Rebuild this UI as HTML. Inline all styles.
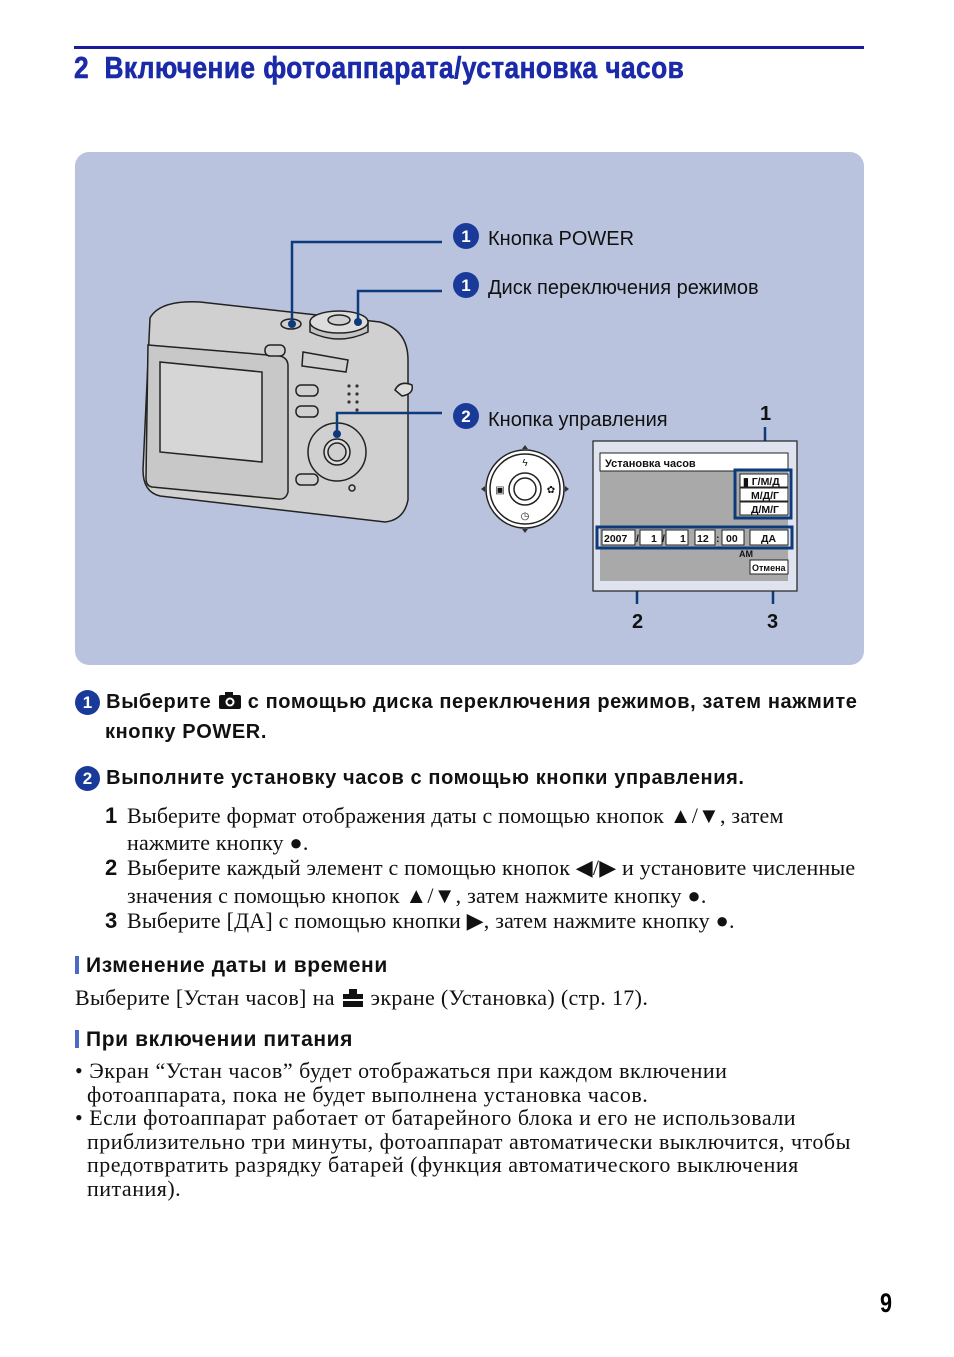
<!DOCTYPE html>
<html><head><meta charset="utf-8"><style>
body{margin:0;width:954px;height:1357px;background:#fff;position:relative;font-family:"Liberation Sans",sans-serif;overflow:hidden}
.a{position:absolute;white-space:nowrap}
.s{font-family:"Liberation Serif",serif;font-size:22px;letter-spacing:0.35px;color:#111}
.st{letter-spacing:0.2px}
.bl{letter-spacing:0.5px}
.h{font-weight:bold;font-size:20px;letter-spacing:0.6px;color:#111}
.num{display:inline-block;width:25px;height:25px;border-radius:50%;background:#1a3a9a;color:#fff;text-align:center;font-weight:bold;font-size:17px;line-height:25px;letter-spacing:0}
.n{font-family:"Liberation Sans";font-weight:bold;letter-spacing:0;display:inline-block;width:22px}
</style></head><body>
<div class="a" style="left:74px;top:46px;width:790px;height:3px;background:#1a1a9a"></div>
<div class="a" style="left:74px;top:50px;font-size:31px;font-weight:bold;color:#1a2aa8;transform:scaleX(0.848);transform-origin:left;letter-spacing:0.5px;-webkit-text-stroke:0.6px #1a2aa8">2&nbsp; Включение фотоаппарата/установка часов</div>
<div class="a" style="left:75px;top:152px;width:789px;height:513px;background:#b9c3de;border-radius:14px"></div>
<svg class="a" style="left:0;top:0" width="954" height="700">
<g stroke="#222" stroke-width="1.5" fill="#d0d0d0">
<path d="M150 318 Q160 300 200 302 L380 322 Q408 330 408 360 L408 500 Q404 520 385 522 L160 496 Q143 492 143 470 Z"/>
<path d="M148 345 L280 356 Q288 358 288 366 L288 492 Q286 500 278 499 L152 487 Q146 486 146 478 Z" fill="#c8c8c8"/>
<path d="M160 362 L262 372 L262 462 L160 452 Z" fill="#d6d6d6"/>
<path d="M310 322 L310 332 Q339 346 368 332 L368 322" fill="#c4c4c4"/>
<ellipse cx="339" cy="322" rx="29" ry="11" fill="#ddd"/><ellipse cx="339" cy="320" rx="11" ry="5"/>
<ellipse cx="291" cy="324" rx="10" ry="5"/>
<rect x="265" y="345" width="20" height="11" rx="5"/>
<path d="M303 352 L348 360 L346 372 L302 366 Z"/>
<rect x="296" y="385" width="22" height="11" rx="5"/><rect x="296" y="406" width="22" height="11" rx="5"/><rect x="296" y="474" width="22" height="11" rx="5"/>
<circle cx="337" cy="452" r="29"/><circle cx="337" cy="452" r="13" fill="#ddd"/><circle cx="337" cy="452" r="9"/>
<circle cx="352" cy="488" r="3"/>
<path d="M395 390 Q400 380 412 385 Q414 394 402 396 Z" fill="#ddd"/>
<circle cx="525" cy="489" r="39" fill="#fff"/><circle cx="525" cy="489" r="35" fill="#fff"/><circle cx="525" cy="489" r="16" fill="#fff"/><circle cx="525" cy="489" r="11" fill="#fff"/>
</g>
<g fill="#333" stroke="none">
<circle cx="349" cy="386" r="1.6"/><circle cx="357" cy="386" r="1.6"/><circle cx="349" cy="394" r="1.6"/><circle cx="357" cy="394" r="1.6"/><circle cx="349" cy="402" r="1.6"/><circle cx="357" cy="402" r="1.6"/><circle cx="357" cy="410" r="1.6"/>
<path d="M525 533 l-3 -4 h6 z"/><path d="M525 445 l-3 4 h6 z"/><path d="M481 489 l4 -3 v6 z"/><path d="M569 489 l-4 -3 v6 z"/>
</g>
<g font-size="10" fill="#111" text-anchor="middle"><text x="525" y="466">ϟ</text><text x="500" y="493">▣</text><text x="551" y="493">✿</text><text x="525" y="519">◷</text></g>
<g fill="none" stroke="#0d3a7a" stroke-width="2.5">
<path d="M292 324 V242 H442"/><path d="M358 322 V291 H442"/><path d="M337 434 V413 H442"/>
<path d="M765 427 V470"/><path d="M637 548 V604"/><path d="M773 548 V604"/>
</g>
<g fill="#0d3a7a"><circle cx="292" cy="324" r="4"/><circle cx="358" cy="322" r="4"/><circle cx="337" cy="434" r="4"/></g>
<rect x="593" y="441" width="204" height="150" fill="#dfe2ef" stroke="#222" stroke-width="1.2"/>
<rect x="600" y="453" width="188" height="128" fill="#a9a9a9"/>
<rect x="600" y="453" width="188" height="18" fill="#fff" stroke="#222"/>
<text x="605" y="467" font-size="11" font-weight="bold" fill="#111">Установка часов</text>
<rect x="735" y="470" width="56" height="48" fill="none" stroke="#0d3a7a" stroke-width="3"/>
<g fill="#fff" stroke="#222"><rect x="740" y="474" width="48" height="13"/><rect x="740" y="488" width="48" height="13"/><rect x="740" y="502" width="48" height="13"/>
<rect x="602" y="530" width="33" height="15"/><rect x="640" y="530" width="22" height="15"/><rect x="666" y="530" width="22" height="15"/><rect x="695" y="530" width="20" height="15"/><rect x="722" y="530" width="22" height="15"/><rect x="750" y="530" width="38" height="15"/><rect x="750" y="560" width="38" height="14"/></g>
<rect x="597" y="527" width="195" height="21" fill="none" stroke="#0d3a7a" stroke-width="3"/>
<g font-size="10.5" font-weight="bold" fill="#111">
<text x="743" y="485">▮ Г/М/Д</text><text x="751" y="499">М/Д/Г</text><text x="751" y="513">Д/М/Г</text>
<text x="604" y="542">2007</text><text x="636" y="542">/</text><text x="651" y="542">1</text><text x="662" y="542">/</text><text x="680" y="542">1</text><text x="697" y="542">12</text><text x="716" y="542">:</text><text x="726" y="542">00</text><text x="761" y="542">ДА</text>
<text x="739" y="557" font-size="9">AM</text><text x="752" y="571" font-size="9">Отмена</text></g>
<g font-size="20" font-weight="bold" fill="#111"><text x="760" y="420">1</text><text x="632" y="628">2</text><text x="767" y="628">3</text></g>
<g fill="#1a3a9a"><circle cx="466" cy="236" r="13"/><circle cx="466" cy="285" r="13"/><circle cx="466" cy="416" r="13"/></g>
<g fill="#fff" font-size="17" font-weight="bold" text-anchor="middle"><text x="466" y="242">1</text><text x="466" y="291">1</text><text x="466" y="422">2</text></g>
<g font-size="20" fill="#111"><text x="488" y="245">Кнопка POWER</text><text x="488" y="294">Диск переключения режимов</text><text x="488" y="426">Кнопка управления</text></g>
</svg>
<div class="a h" style="left:75px;top:690px"><span class="num">1</span> Выберите <svg width="24" height="18" style="vertical-align:-2px"><rect x="1" y="3" width="22" height="14" rx="2" fill="#111"/><rect x="7" y="0" width="8" height="4" fill="#111"/><circle cx="12" cy="10" r="4.5" fill="#fff"/><circle cx="12" cy="10" r="2.5" fill="#111"/></svg> с помощью диска переключения режимов, затем нажмите</div>
<div class="a h" style="left:105px;top:721px">кнопку POWER.</div>
<div class="a h" style="left:75px;top:766px"><span class="num">2</span> Выполните установку часов с помощью кнопки управления.</div>
<div class="a s st" style="left:105px;top:803px"><span class="n">1</span>Выберите формат отображения даты с помощью кнопок ▲/▼, затем</div>
<div class="a s st" style="left:127px;top:830px">нажмите кнопку ●.</div>
<div class="a s st" style="left:105px;top:855px"><span class="n">2</span>Выберите каждый элемент с помощью кнопок ◀/▶ и установите численные</div>
<div class="a s st" style="left:127px;top:883px">значения с помощью кнопок ▲/▼, затем нажмите кнопку ●.</div>
<div class="a s st" style="left:105px;top:908px"><span class="n">3</span>Выберите [ДА] с помощью кнопки ▶, затем нажмите кнопку ●.</div>
<div class="a" style="left:75px;top:956px;width:4px;height:18px;background:#4a6ac8"></div>
<div class="a h" style="left:86px;top:954px;font-size:21px">Изменение даты и времени</div>
<div class="a s" style="left:75px;top:985px">Выберите [Устан часов] на <svg width="24" height="20" style="vertical-align:-3px"><rect x="2" y="6" width="20" height="13" fill="#111"/><rect x="8" y="1" width="8" height="5" fill="#111"/><rect x="2" y="11" width="20" height="2" fill="#fff"/></svg> экране (Установка) (стр. 17).</div>
<div class="a" style="left:75px;top:1030px;width:4px;height:18px;background:#4a6ac8"></div>
<div class="a h" style="left:86px;top:1028px;font-size:21px">При включении питания</div>
<div class="a s bl" style="left:75px;top:1059px;line-height:23.5px">• Экран “Устан часов” будет отображаться при каждом включении<br>&nbsp;&nbsp;фотоаппарата, пока не будет выполнена установка часов.<br>• Если фотоаппарат работает от батарейного блока и его не использовали<br>&nbsp;&nbsp;приблизительно три минуты, фотоаппарат автоматически выключится, чтобы<br>&nbsp;&nbsp;предотвратить разрядку батарей (функция автоматического выключения<br>&nbsp;&nbsp;питания).</div>
<div class="a" style="left:880px;top:1288px;font-size:27px;font-weight:bold;transform:scaleX(0.8);transform-origin:left">9</div>
</body></html>
